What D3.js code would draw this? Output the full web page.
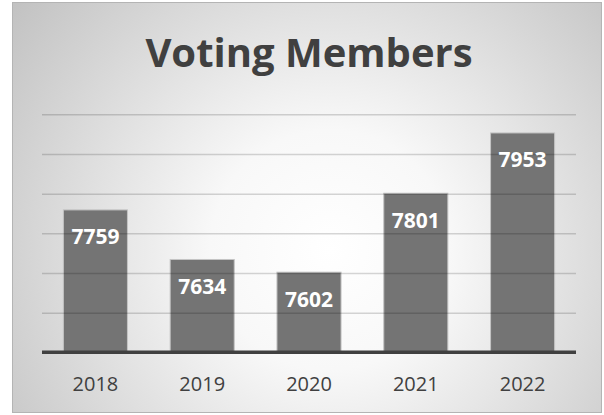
<!DOCTYPE html>
<html>
<head>
<meta charset="utf-8">
<script src="https://cdn.jsdelivr.net/npm/d3@7"></script>
<style>
body { margin: 0; background: #ffffff; }
svg { display: block; }
</style>
</head>
<body>
<div id="chart"></div>
<script>
// chart data
let years = ["2018", "2019", "2020", "2021", "2022"];
let members = [7759, 7634, 7602, 7801, 7953];
let yTicks = [7400, 7500, 7600, 7700, 7800, 7900, 8000];

let boxWidth = 604;
let boxHeight = 415;

let plot = { left: 42, right: 576, top: 114.3, bottom: 352.3 };

let svg = d3.select("#chart")
    .append("svg")
    .attr("width", boxWidth)
    .attr("height", boxHeight);

// background gradient like the office chart area
let defs = svg.append("defs");
let grad = defs.append("radialGradient")
    .attr("id", "bg")
    .attr("gradientUnits", "userSpaceOnUse")
    .attr("cx", 330).attr("cy", 250).attr("r", 400);
grad.append("stop").attr("offset", "0%").attr("stop-color", "#ffffff");
grad.append("stop").attr("offset", "30%").attr("stop-color", "#f8f8f8");
grad.append("stop").attr("offset", "100%").attr("stop-color", "#c2c2c2");

svg.append("rect")
    .attr("x", 12.5).attr("y", 2.5)
    .attr("width", 589).attr("height", 410)
    .attr("fill", "url(#bg)")
    .attr("stroke", "#b4b4b4")
    .attr("stroke-width", 1);

// scales
let x = d3.scaleBand()
    .domain(years)
    .range([plot.left, plot.right])
    .paddingInner(0.4)
    .paddingOuter(0.2);

let y = d3.scaleLinear()
    .domain([yTicks[0], yTicks[yTicks.length - 1]])
    .range([plot.bottom, plot.top]);

let data = years.map((d, i) => ({ year: d, value: members[i] }));

// bars
svg.append("g")
    .selectAll("rect")
    .data(data)
    .enter()
    .append("rect")
    .attr("x", d => x(d.year))
    .attr("y", d => y(d.value))
    .attr("width", x.bandwidth())
    .attr("height", d => plot.bottom - y(d.value))
    .attr("fill", "#747474")
    .attr("stroke", "#c4c4c4")
    .attr("stroke-width", 1);

// gridlines (drawn over bars, semi transparent)
let yAxis = d3.axisLeft(y)
    .tickValues(yTicks.slice(1))
    .tickSize(-(plot.right - plot.left))
    .tickFormat("");

let grid = svg.append("g")
    .attr("transform", `translate(${plot.left}, 0)`)
    .call(yAxis);
grid.select(".domain").remove();
grid.selectAll(".tick line")
    .attr("stroke", "rgba(0,0,0,0.16)")
    .attr("stroke-width", 1.5);

// x axis baseline + year labels
let xAxis = d3.axisBottom(x).tickSize(0).tickPadding(0);
let xg = svg.append("g")
    .attr("transform", `translate(0, ${plot.bottom})`)
    .call(xAxis);
xg.select(".domain")
    .attr("stroke", "#404040")
    .attr("stroke-width", 3.5)
    .attr("d", `M${plot.left},0H${plot.right}`);
xg.selectAll(".tick text")
    .attr("y", 38.7)
    .attr("dy", null)
    .attr("fill", "#404040")
    .attr("font-family", "Open Sans")
    .attr("font-size", "20px");

// value labels
svg.append("g")
    .selectAll("text")
    .data(data)
    .enter()
    .append("text")
    .attr("x", d => x(d.year) + x.bandwidth() / 2)
    .attr("y", d => y(d.value) + 34.5)
    .attr("text-anchor", "middle")
    .attr("font-family", "Open Sans")
    .attr("font-weight", "bold")
    .attr("font-size", "21px")
    .attr("fill", "#ffffff")
    .text(d => d.value);

// title
svg.append("text")
    .attr("x", 309)
    .attr("y", 66.7)
    .attr("text-anchor", "middle")
    .attr("font-family", "Open Sans")
    .attr("font-weight", "bold")
    .attr("font-size", "40px")
    .attr("fill", "#404040")
    .text("Voting Members");
</script>
</body>
</html>
